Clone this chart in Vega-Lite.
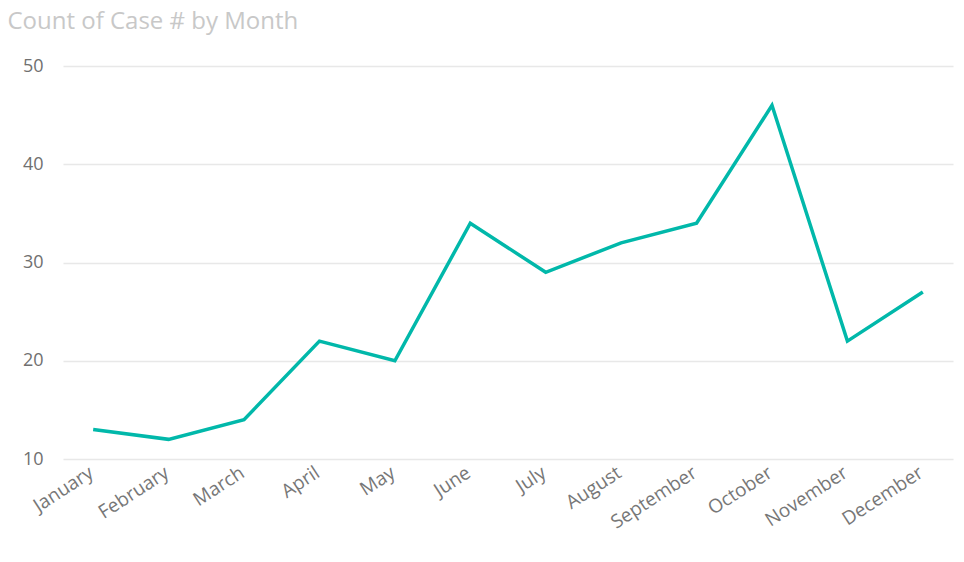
{
  "$schema": "https://vega.github.io/schema/vega-lite/v6.json",
  "autosize": {"type": "none"},
  "width": 890,
  "height": 393,
  "padding": {"left": 63, "top": 66, "right": 11, "bottom": 103},
  "background": "white",
  "title": {
    "text": "Count of Case # by Month",
    "anchor": "start",
    "dx": -15,
    "offset": 23,
    "font": "Segoe UI, Open Sans",
    "fontSize": 24,
    "fontWeight": "normal",
    "color": "#c8c8c8"
  },
  "config": {"view": {"stroke": null}},
  "data": {
    "values": [
      {"Month": "January", "Count": 13},
      {"Month": "February", "Count": 12},
      {"Month": "March", "Count": 14},
      {"Month": "April", "Count": 22},
      {"Month": "May", "Count": 20},
      {"Month": "June", "Count": 34},
      {"Month": "July", "Count": 29},
      {"Month": "August", "Count": 32},
      {"Month": "September", "Count": 34},
      {"Month": "October", "Count": 46},
      {"Month": "November", "Count": 22},
      {"Month": "December", "Count": 27}
    ]
  },
  "mark": {"type": "line", "color": "#01B8AA", "strokeWidth": 3.5},
  "encoding": {
    "x": {
      "field": "Month",
      "type": "ordinal",
      "sort": null,
      "scale": {"type": "point", "padding": 0.4},
      "axis": {
        "title": null,
        "domain": false,
        "ticks": false,
        "labelAngle": -33,
        "labelAlign": "right",
        "labelBaseline": "top",
        "labelPadding": 4,
        "labelOffset": -7,
        "labelFont": "Segoe UI, Open Sans",
        "labelFontSize": 19,
        "labelColor": "#777777"
      }
    },
    "y": {
      "field": "Count",
      "type": "quantitative",
      "scale": {"domain": [10, 50], "nice": false, "zero": false},
      "axis": {
        "title": null,
        "values": [10, 20, 30, 40, 50],
        "domain": false,
        "ticks": false,
        "grid": true,
        "gridColor": "#e8e8e8",
        "gridWidth": 1.5,
        "labelPadding": 20,
        "labelFont": "Segoe UI, Open Sans",
        "labelFontSize": 18,
        "labelColor": "#707070"
      }
    }
  }
}
